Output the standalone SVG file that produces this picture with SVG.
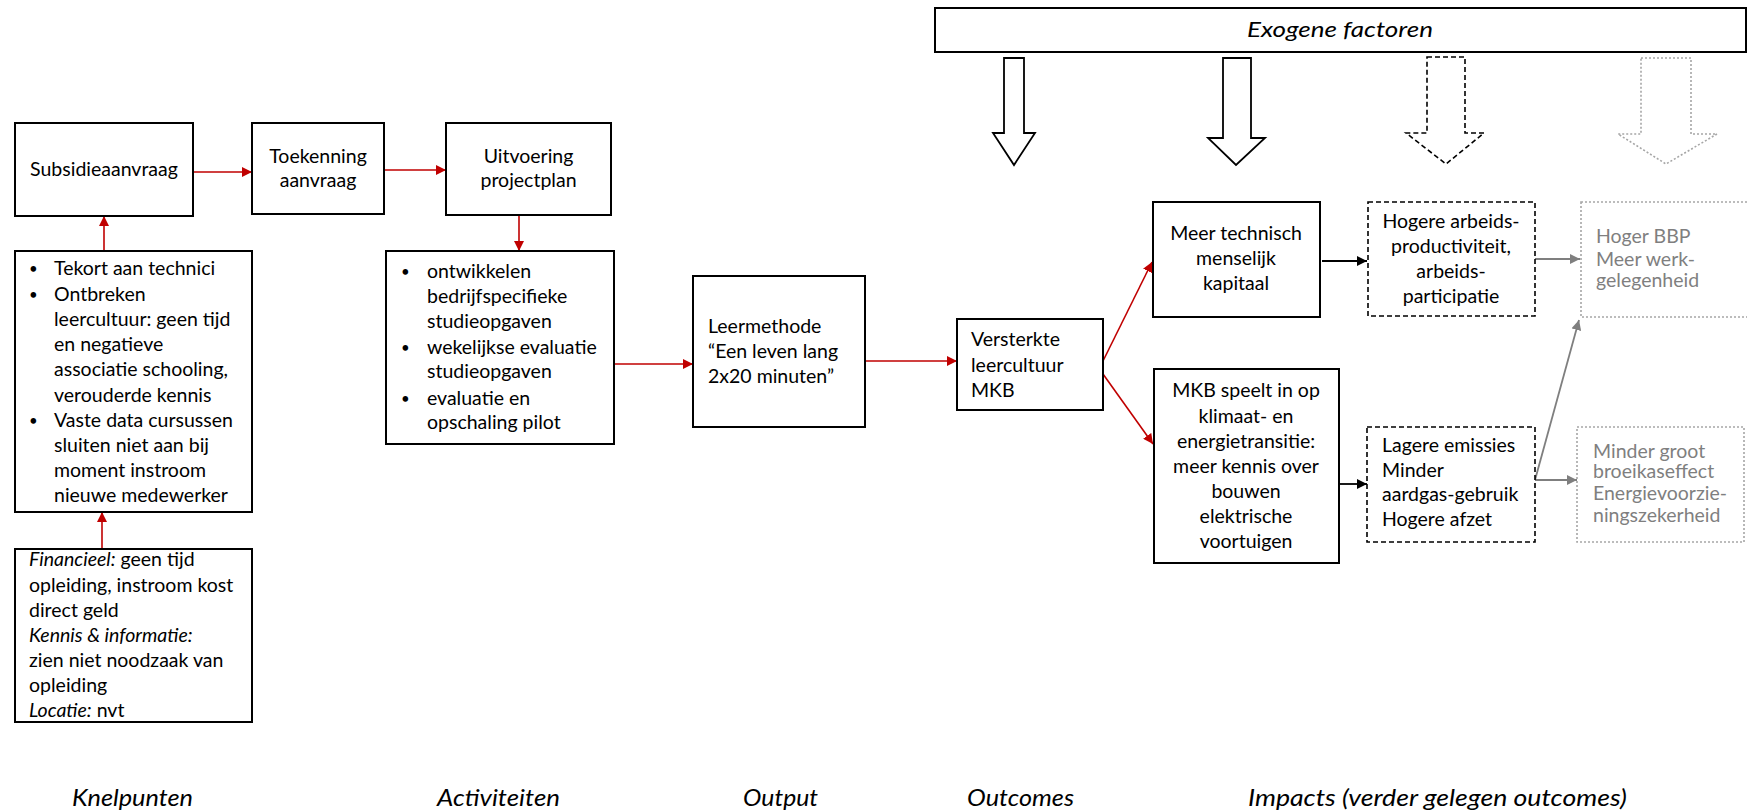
<svg xmlns="http://www.w3.org/2000/svg" width="1747" height="811" viewBox="0 0 1747 811">
<defs>
<style>
text{font-family:Lato,"Open Sans","Liberation Sans",sans-serif;font-size:19.5px;fill:#000}
.c{text-anchor:middle}
.i{font-style:italic}
.g{fill:#7f7f7f}
.b{font-size:15px}
.lbl{font-size:23px;font-style:italic}
.box{fill:#fff;stroke:#000;stroke-width:2}
.dash{fill:#fff;stroke:#000;stroke-width:1.6;stroke-dasharray:5 3}
.dot{fill:#fff;stroke:#a6a6a6;stroke-width:1.6;stroke-dasharray:2 2}
.red{stroke:#c00000;stroke-width:1.6;fill:none;marker-end:url(#mr)}
.blk{stroke:#000;stroke-width:1.8;fill:none;marker-end:url(#mb)}
.gry{stroke:#7f7f7f;stroke-width:1.8;fill:none;marker-end:url(#mg)}
</style>
<marker id="mr" viewBox="0 0 10 10" refX="10" refY="5" markerUnits="userSpaceOnUse" markerWidth="10" markerHeight="10" orient="auto"><path d="M0,0L10,5L0,10z" fill="#c00000"/></marker>
<marker id="mb" viewBox="0 0 10 10" refX="10" refY="5" markerUnits="userSpaceOnUse" markerWidth="10" markerHeight="10" orient="auto"><path d="M0,0L10,5L0,10z" fill="#000"/></marker>
<marker id="mg" viewBox="0 0 10 10" refX="10" refY="5" markerUnits="userSpaceOnUse" markerWidth="10" markerHeight="10" orient="auto"><path d="M0,0L10,5L0,10z" fill="#7f7f7f"/></marker>
</defs>
<rect width="1747" height="811" fill="#fff"/>

<g id="exogene">
<rect class="box" x="935" y="8" width="811" height="44"/>
<text class="i" x="1247" y="37" style="font-size:22px" textLength="186" lengthAdjust="spacingAndGlyphs">Exogene factoren</text>
<path d="M1004,58H1024V133H1035L1014,165L993,133H1004Z" fill="#fff" stroke="#000" stroke-width="1.8"/>
<path d="M1223,58H1251V138H1265L1236,165L1208,138H1223Z" fill="#fff" stroke="#000" stroke-width="1.8"/>
<path d="M1427,57H1465V133H1484L1446,164L1406,133H1427Z" fill="#fff" stroke="#000" stroke-width="1.6" stroke-dasharray="5 3"/>
<path d="M1641,58H1691V134H1717L1666,164L1618,134H1641Z" fill="#fff" stroke="#a6a6a6" stroke-width="1.6" stroke-dasharray="2 2"/>
</g>

<g id="connectors">
<line class="red" x1="193" y1="172" x2="252" y2="172"/>
<line class="red" x1="384" y1="170" x2="446" y2="170"/>
<line class="red" x1="104" y1="251" x2="104" y2="216"/>
<line class="red" x1="102" y1="549" x2="102" y2="512"/>
<line class="red" x1="519" y1="215" x2="519" y2="251"/>
<line class="red" x1="614" y1="364" x2="693" y2="364"/>
<line class="red" x1="865" y1="361" x2="957" y2="361"/>
<line class="red" x1="1103" y1="361" x2="1152" y2="262"/>
<line class="red" x1="1103" y1="374" x2="1153" y2="444"/>
<line class="blk" x1="1322" y1="261" x2="1367" y2="261"/>
<line class="blk" x1="1339" y1="484" x2="1367" y2="484"/>
<line class="gry" x1="1535" y1="259" x2="1580" y2="259"/>
<line class="gry" x1="1535" y1="480" x2="1577" y2="480"/>
<line class="gry" x1="1535" y1="480" x2="1579" y2="320"/>
</g>

<g id="subsidieaanvraag">
<rect class="box" x="15" y="123" width="178" height="93"/>
<text class="c" x="104" y="176">Subsidieaanvraag</text>
</g>

<g id="toekenning">
<rect class="box" x="252" y="123" width="132" height="91"/>
<text class="c" x="318" y="163">Toekenning</text>
<text class="c" x="318" y="187">aanvraag</text>
</g>

<g id="uitvoering">
<rect class="box" x="446" y="123" width="165" height="92"/>
<text class="c" x="528.5" y="163">Uitvoering</text>
<text class="c" x="528.5" y="187">projectplan</text>
</g>

<g id="knelpunten">
<rect class="box" x="15" y="251" width="237" height="261"/>
<text class="b" x="29" y="274">•</text><text x="54" y="275">Tekort aan technici</text>
<text class="b" x="29" y="300">•</text><text x="54" y="301">Ontbreken</text>
<text x="54" y="326">leercultuur: geen tijd</text>
<text x="54" y="351">en negatieve</text>
<text x="54" y="376">associatie schooling,</text>
<text x="54" y="402">verouderde kennis</text>
<text class="b" x="29" y="426">•</text><text x="54" y="427">Vaste data cursussen</text>
<text x="54" y="452">sluiten niet aan bij</text>
<text x="54" y="477">moment instroom</text>
<text x="54" y="502">nieuwe medewerker</text>
</g>

<g id="barrieres">
<rect class="box" x="15" y="549" width="237" height="173"/>
<text x="29" y="566"><tspan class="i">Financieel:</tspan> geen tijd</text>
<text x="29" y="592">opleiding, instroom kost</text>
<text x="29" y="617">direct geld</text>
<text x="29" y="642" class="i">Kennis &amp; informatie:</text>
<text x="29" y="667">zien niet noodzaak van</text>
<text x="29" y="692">opleiding</text>
<text x="29" y="717"><tspan class="i">Locatie:</tspan> nvt</text>
</g>

<g id="activiteiten">
<rect class="box" x="386" y="251" width="228" height="193"/>
<text class="b" x="401" y="277">•</text><text x="427" y="278">ontwikkelen</text>
<text x="427" y="303">bedrijfspecifieke</text>
<text x="427" y="328">studieopgaven</text>
<text class="b" x="401" y="353">•</text><text x="427" y="354">wekelijkse evaluatie</text>
<text x="427" y="378">studieopgaven</text>
<text class="b" x="401" y="404">•</text><text x="427" y="405">evaluatie en</text>
<text x="427" y="429">opschaling pilot</text>
</g>

<g id="leermethode">
<rect class="box" x="693" y="276" width="172" height="151"/>
<text x="708" y="333">Leermethode</text>
<text x="708" y="358">“Een leven lang</text>
<text x="708" y="383">2x20 minuten”</text>
</g>

<g id="versterkte">
<rect class="box" x="957" y="319" width="146" height="91"/>
<text x="971" y="346">Versterkte</text>
<text x="971" y="372">leercultuur</text>
<text x="971" y="397">MKB</text>
</g>

<g id="meer-technisch">
<rect class="box" x="1153" y="202" width="167" height="115"/>
<text class="c" x="1236" y="240">Meer technisch</text>
<text class="c" x="1236" y="265">menselijk</text>
<text class="c" x="1236" y="290">kapitaal</text>
</g>

<g id="mkb-speelt">
<rect class="box" x="1154" y="369" width="185" height="194"/>
<text class="c" x="1246" y="397">MKB speelt in op</text>
<text class="c" x="1246" y="423">klimaat- en</text>
<text class="c" x="1246" y="448">energietransitie:</text>
<text class="c" x="1246" y="473">meer kennis over</text>
<text class="c" x="1246" y="498">bouwen</text>
<text class="c" x="1246" y="523">elektrische</text>
<text class="c" x="1246" y="548">voortuigen</text>
</g>

<g id="hogere-arbeids">
<rect class="dash" x="1368" y="202" width="167" height="114"/>
<text class="c" x="1451" y="228">Hogere arbeids-</text>
<text class="c" x="1451" y="253">productiviteit,</text>
<text class="c" x="1451" y="278">arbeids-</text>
<text class="c" x="1451" y="303">participatie</text>
</g>

<g id="lagere-emissies">
<rect class="dash" x="1367" y="427" width="168" height="115"/>
<text x="1382" y="452">Lagere emissies</text>
<text x="1382" y="477">Minder</text>
<text x="1382" y="501">aardgas-gebruik</text>
<text x="1382" y="526">Hogere afzet</text>
</g>

<g id="hoger-bbp">
<rect class="dot" x="1581" y="202" width="168" height="115"/>
<text class="g" x="1596" y="243">Hoger BBP</text>
<text class="g" x="1596" y="266">Meer werk-</text>
<text class="g" x="1596" y="287">gelegenheid</text>
</g>

<g id="minder-groot">
<rect class="dot" x="1577" y="427" width="167" height="115"/>
<text class="g" x="1593" y="458">Minder groot</text>
<text class="g" x="1593" y="478">broeikaseffect</text>
<text class="g" x="1593" y="500">Energievoorzie-</text>
<text class="g" x="1593" y="522">ningszekerheid</text>
</g>

<g id="labels">
<text class="lbl" x="72" y="806" textLength="121" lengthAdjust="spacingAndGlyphs">Knelpunten</text>
<text class="lbl" x="437" y="806" textLength="123" lengthAdjust="spacingAndGlyphs">Activiteiten</text>
<text class="lbl" x="743" y="806" textLength="75" lengthAdjust="spacingAndGlyphs">Output</text>
<text class="lbl" x="967" y="806" textLength="107" lengthAdjust="spacingAndGlyphs">Outcomes</text>
<text class="lbl" x="1248" y="806" textLength="379" lengthAdjust="spacingAndGlyphs">Impacts (verder gelegen outcomes)</text>
</g>
</svg>
